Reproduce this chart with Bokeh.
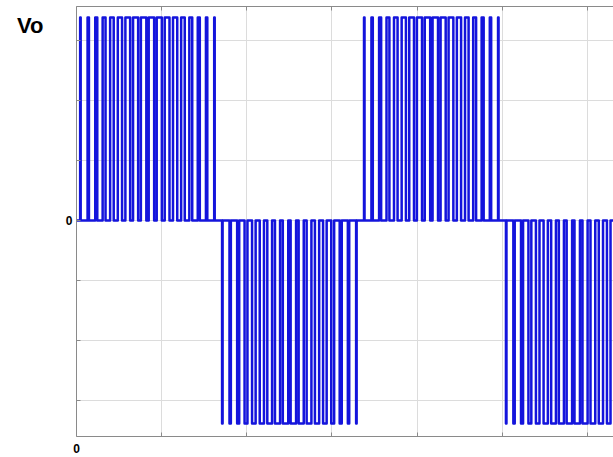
from bokeh.plotting import figure
from bokeh.models import (LinearAxis, FixedTicker, CustomJSTickFormatter, Range1d)
from bokeh.embed import file_html
from bokeh.resources import INLINE

# ---- data (time in ms, voltage normalised) ----
half_starts = [0.0, 8.333, 16.667, 25.0]          # start of each half cycle
half_signs = [1, -1, 1, -1]                        # polarity of each half cycle
pulse_offsets = [0.23, 0.69, 1.16, 1.62, 2.08, 2.55, 3.01, 3.47, 3.94,
                 4.40, 4.86, 5.32, 5.79, 6.25, 6.71, 7.18, 7.64, 8.10]
pulse_widths = [0.03, 0.08, 0.12, 0.17, 0.21, 0.25, 0.28, 0.30, 0.32,
                0.32, 0.30, 0.28, 0.25, 0.21, 0.17, 0.12, 0.08, 0.03]
x_ticks = [0, 5, 10, 15, 20, 25, 30]
y_ticks = [-0.885, -0.59, -0.295, 0, 0.295, 0.59, 0.885]
title_pos = [0.96]
x_end = 33.33

# build waveform polyline from the pulse table
xs, ys = [0.0], [0.0]
for start, sgn in zip(half_starts, half_signs):
    for off, w in zip(pulse_offsets, pulse_widths):
        a = start + off - w / 2
        b = start + off + w / 2
        xs += [a, a, b, b]
        ys += [0, sgn, sgn, 0]
xs.append(x_end)
ys.append(0)

p = figure(width=613, height=457, output_backend="svg", toolbar_location=None,
           x_range=Range1d(0, 31.53), y_range=Range1d(-1.064, 1.054),
           x_axis_location=None, y_axis_location=None,
           min_border_left=76, min_border_right=0, min_border_top=6, min_border_bottom=21)
p.outline_line_color = None
p.background_fill_color = "white"
p.border_fill_color = "white"

fmt = CustomJSTickFormatter(code="return tick == 0 ? '0' : '';")
empty = CustomJSTickFormatter(code="return '';")
vo_fmt = CustomJSTickFormatter(code="return 'Vo';")

axcol = "#8a8a8a"
bottom = LinearAxis(ticker=FixedTicker(ticks=x_ticks), formatter=fmt)
left = LinearAxis(ticker=FixedTicker(ticks=y_ticks), formatter=fmt)
top = LinearAxis(ticker=FixedTicker(ticks=x_ticks), formatter=empty)
for ax in (bottom, left, top):
    ax.axis_line_color = axcol
    ax.major_tick_line_color = axcol
    ax.major_tick_in = 4
    ax.major_tick_out = 0
    ax.minor_tick_line_color = None
    ax.major_label_text_font = "Liberation Sans"
    ax.major_label_text_font_style = "bold"
    ax.major_label_text_font_size = "12px"
    ax.major_label_text_color = "black"
bottom.major_label_standoff = 7
left.major_label_standoff = 4
top.major_label_text_font_size = "0px"
top.major_label_standoff = 0
p.add_layout(bottom, "below")
p.add_layout(left, "left")
p.add_layout(top, "above")

# "Vo" label as an outer left axis label
vo_axis = LinearAxis(ticker=FixedTicker(ticks=title_pos), formatter=vo_fmt)
vo_axis.axis_line_color = None
vo_axis.major_tick_line_color = None
vo_axis.minor_tick_line_color = None
vo_axis.major_tick_in = 0
vo_axis.major_tick_out = 0
vo_axis.major_label_standoff = 19
vo_axis.major_label_text_font = "Liberation Sans"
vo_axis.major_label_text_font_style = "bold"
vo_axis.major_label_text_font_size = "22px"
vo_axis.major_label_text_color = "black"
p.add_layout(vo_axis, "left")

p.xgrid.ticker = FixedTicker(ticks=x_ticks)
p.ygrid.ticker = FixedTicker(ticks=y_ticks)
p.xgrid.grid_line_color = "#dcdcdc"
p.ygrid.grid_line_color = "#dcdcdc"

p.line(xs, ys, line_color="#1414dc", line_width=2.5, line_join="round")

open("out.html", "w").write(file_html(p, INLINE))
